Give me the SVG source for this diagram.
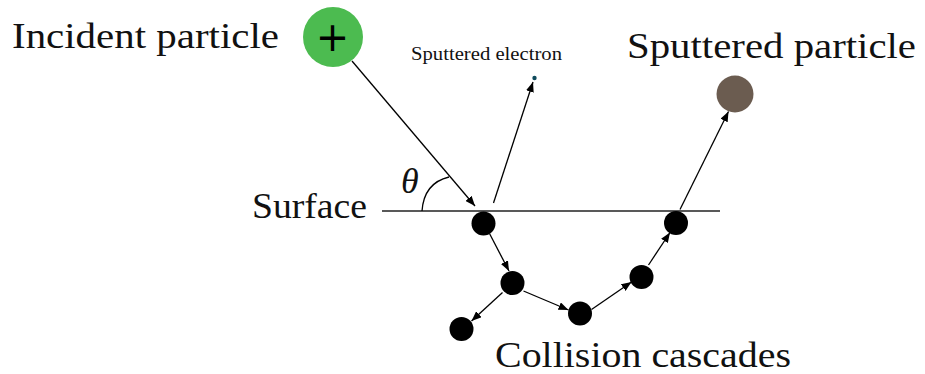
<svg xmlns="http://www.w3.org/2000/svg" width="925" height="374" viewBox="0 0 925 374">
<style>
.lbl{font-family:'Liberation Serif','Times New Roman',serif;fill:#111;}
.big{font-size:35px;}
.ball{fill:#000;}
.conn{stroke:#000;stroke-width:1.3;fill:none;marker-end:url(#ah);}
</style>
<defs>
<marker id="ah" viewBox="0 0 10 8" refX="10" refY="4" markerWidth="10" markerHeight="8" markerUnits="userSpaceOnUse" orient="auto">
<path d="M0,0 L10,4 L0,8 Z" fill="#000"/>
</marker>
</defs>
<rect width="925" height="374" fill="#fff"/>

<g id="labels">
<text class="lbl big" x="12" y="48" textLength="267" lengthAdjust="spacingAndGlyphs">Incident particle</text>
<text class="lbl big" x="627" y="58" textLength="289" lengthAdjust="spacingAndGlyphs">Sputtered particle</text>
<text class="lbl big" x="252" y="218" textLength="115" lengthAdjust="spacingAndGlyphs">Surface</text>
<text class="lbl big" x="495" y="367" textLength="296" lengthAdjust="spacingAndGlyphs">Collision cascades</text>
<text class="lbl" x="411" y="60" font-size="18" textLength="151" lengthAdjust="spacingAndGlyphs">Sputtered electron</text>
<text class="lbl" x="401" y="193" font-size="36" font-style="italic">θ</text>
</g>

<g id="surface">
<line x1="382" y1="211" x2="720" y2="211" stroke="#222" stroke-width="1.6"/>
<path d="M422,211 Q424,183 449,177" fill="none" stroke="#000" stroke-width="1.3"/>
</g>

<g id="incident">
<circle cx="333" cy="37" r="30" fill="#4cbb50"/>
<text x="332.5" y="51" font-family="DejaVu Sans, sans-serif" font-size="40" text-anchor="middle" fill="#000">+</text>
</g>

<g id="electron">
<circle cx="534.5" cy="78" r="2.2" fill="#0e4a5c"/>
</g>

<g id="sputtered">
<circle cx="735" cy="94" r="18.5" fill="#6b5c50"/>
</g>

<g id="b1"><circle class="ball" cx="483.5" cy="223.5" r="12"/></g>
<g id="b2"><circle class="ball" cx="512.5" cy="283" r="12"/></g>
<g id="b3"><circle class="ball" cx="461.5" cy="329" r="12"/></g>
<g id="b4"><circle class="ball" cx="580" cy="313.5" r="12"/></g>
<g id="b5"><circle class="ball" cx="641.5" cy="277" r="12"/></g>
<g id="b6"><circle class="ball" cx="676" cy="223" r="12"/></g>

<g id="connectors">
<line class="conn" x1="352" y1="61" x2="475" y2="206"/>
<line class="conn" x1="493.5" y1="203" x2="533" y2="82"/>
<line class="conn" x1="680" y1="209.5" x2="728.5" y2="111.5"/>
<line class="conn" x1="489.5" y1="233.5" x2="509" y2="271"/>
<line class="conn" x1="502.5" y1="292.5" x2="471.5" y2="321"/>
<line class="conn" x1="523.5" y1="291" x2="568.5" y2="310"/>
<line class="conn" x1="591.5" y1="309.5" x2="631.5" y2="282"/>
<line class="conn" x1="648.5" y1="265" x2="670" y2="232.5"/>
</g>
</svg>
